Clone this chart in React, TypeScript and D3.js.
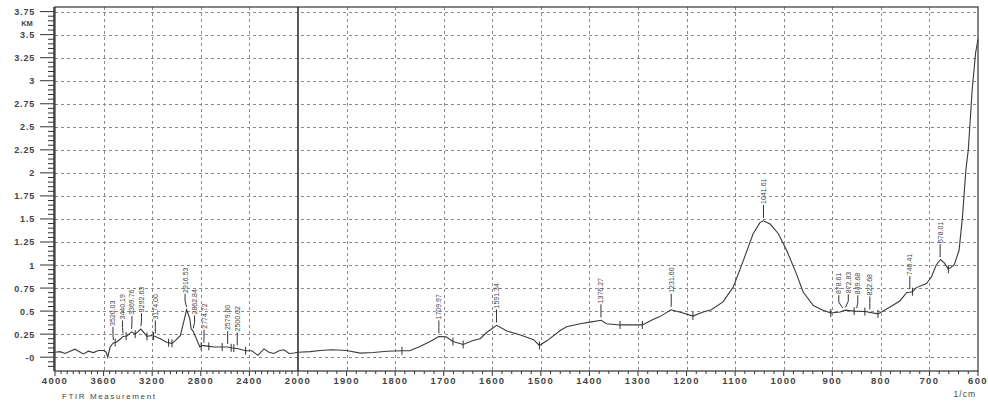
import { useRef, useEffect } from 'react';
import * as d3 from 'd3';

// spectrum points: wavenumber (1/cm) and absorbance
const wavenumbers = [
  4000, 3959, 3917, 3876, 3835, 3807, 3766, 3725, 3684, 3642, 3601, 3579, 3566, 3546, 3520, 3491,
  3460, 3440, 3408, 3370, 3340, 3315, 3293, 3243, 3210, 3174, 3133, 3078, 3037, 3010, 2968, 2941,
  2917, 2891, 2880, 2863, 2836, 2808, 2790, 2775, 2747, 2693, 2640, 2597, 2579, 2542, 2500, 2431,
  2380, 2330, 2280, 2239, 2198, 2156, 2115, 2074, 2033, 2000,
  1975, 1954, 1930, 1900, 1872, 1845, 1817, 1786, 1770, 1749, 1728, 1710, 1695, 1681, 1660, 1640,
  1625, 1611, 1591, 1570, 1542, 1515, 1503, 1487, 1460, 1447, 1419, 1399, 1376, 1365, 1337, 1291,
  1269, 1255, 1232, 1207, 1187, 1166, 1149, 1125, 1104, 1083, 1063, 1049, 1042, 1028, 1011, 994,
  974, 960, 939, 919, 903, 884, 873, 855, 833, 806, 781, 761, 747, 735, 727, 706,
  696, 686, 677, 669, 661, 649, 639, 632, 625, 620, 612, 605, 600,
];
const absorbance = [
  0.054, 0.06, 0.04, 0.065, 0.087, 0.065, 0.036, 0.065, 0.05, 0.072, 0.072, 0.054, 0.0, 0.11, 0.155, 0.165,
  0.2, 0.225, 0.23, 0.275, 0.25, 0.28, 0.305, 0.225, 0.235, 0.225, 0.2, 0.16, 0.15, 0.18, 0.236, 0.38,
  0.515, 0.42, 0.31, 0.28, 0.2, 0.11, 0.125, 0.125, 0.12, 0.11, 0.11, 0.11, 0.11, 0.1, 0.095, 0.07,
  0.07, 0.02, 0.09, 0.054, 0.04, 0.07, 0.08, 0.04, 0.045, 0.054,
  0.06, 0.073, 0.08, 0.073, 0.044, 0.05, 0.065, 0.07, 0.07, 0.116, 0.17, 0.225, 0.22, 0.17, 0.138, 0.18,
  0.2, 0.27, 0.345, 0.283, 0.24, 0.19, 0.127, 0.18, 0.29, 0.33, 0.363, 0.38, 0.4, 0.363, 0.35, 0.35,
  0.41, 0.44, 0.515, 0.48, 0.446, 0.49, 0.515, 0.6, 0.76, 1.05, 1.34, 1.46, 1.48, 1.445, 1.34, 1.16,
  0.907, 0.707, 0.56, 0.51, 0.48, 0.49, 0.51, 0.5, 0.495, 0.47, 0.545, 0.61, 0.7, 0.71, 0.755, 0.8,
  0.87, 1.0, 1.06, 1.02, 0.955, 1.0, 1.16, 1.52, 2.03, 2.25, 2.9, 3.3, 3.45,
];

// peak picks with their labels
const peakWn = [
  3520.03, 3440.19, 3369.76, 3292.63, 3174.0, 2916.53, 2862.84, 2774.72, 2579.0, 2500.02,
  1709.97, 1591.34, 1376.27, 1231.6, 1041.61, 878.61, 872.83, 849.68, 822.68, 740.41, 678.01,
];
const peakLabels = [
  '3520.03', '3440.19', '3369.76', '3292.63', '3174.00', '2916.53', '2862.84', '2774.72', '2579.00', '2500.02',
  '1709.97', '1591.34', '1376.27', '1231.60', '1041.61', '878.61', '872.83', '849.68', '822.68', '740.41', '678.01',
];

// valley tick marks on the trace
const valleyWn = [
  3505, 3414, 3340, 3243, 3189, 3065, 3037, 2797, 2734, 2624, 2550, 2528, 2431,
  1786, 1681, 1660, 1503, 1337, 1291, 1187, 903, 855, 833, 806, 735, 661,
];

const yTicks = [0, 0.25, 0.5, 0.75, 1, 1.25, 1.5, 1.75, 2, 2.25, 2.5, 2.75, 3, 3.25, 3.5, 3.75];
const xTicksLeft = [4000, 3600, 3200, 2800, 2400, 2000];
const xTicksRight = [1900, 1800, 1700, 1600, 1500, 1400, 1300, 1200, 1100, 1000, 900, 800, 700, 600];

const W = 988;
const H = 408;
const FONT = "'Liberation Sans', Arial, sans-serif";

export default function App() {
  const svgRef = useRef<SVGSVGElement>(null);

  useEffect(() => {
    if (!svgRef.current) return;
    const svg = d3.select(svgRef.current);
    svg.selectAll('*').remove();

    const left = 55;
    const right = 978;
    const top = 7;
    const bottom = 371;

    // two-segment wavenumber axis: 4000-2000 compressed, 2000-600 expanded
    const x = d3.scaleLinear().domain([4000, 2000, 600]).range([left, 298, right]);
    const y = d3.scaleLinear().domain([-0.15, 3.8]).range([bottom, top]);

    const ink = '#333';
    const pts = wavenumbers.map((w, i) => ({ w, a: absorbance[i] }));
    const valueAt = (w: number) => {
      for (let i = 0; i < pts.length - 1; i++) {
        const p = pts[i];
        const q = pts[i + 1];
        if (w <= p.w && w >= q.w) {
          const t = (p.w - w) / (p.w - q.w);
          return p.a + t * (q.a - p.a);
        }
      }
      return pts[pts.length - 1].a;
    };

    // grid
    const grid = svg.append('g').attr('stroke', '#8a8a8a').attr('stroke-width', 1).attr('stroke-dasharray', '3,3');
    yTicks.forEach((v) => {
      grid.append('line').attr('x1', left).attr('x2', right)
        .attr('y1', Math.round(y(v)) + 0.5).attr('y2', Math.round(y(v)) + 0.5);
    });
    [...xTicksLeft.slice(1, -1), ...xTicksRight.slice(0, -1)].forEach((v) => {
      grid.append('line').attr('x1', Math.round(x(v)) + 0.5).attr('x2', Math.round(x(v)) + 0.5)
        .attr('y1', top).attr('y2', bottom);
    });

    // frame
    svg.append('rect').attr('x', left).attr('y', top).attr('width', right - left).attr('height', bottom - top)
      .attr('fill', 'none').attr('stroke', ink).attr('stroke-width', 1.2);

    // split line at 2000
    svg.append('line').attr('x1', x(2000)).attr('x2', x(2000)).attr('y1', top).attr('y2', bottom)
      .attr('stroke', '#222').attr('stroke-width', 1.5);

    // y axis with minor ticks
    const yAxis = svg.append('g').attr('stroke', ink);
    yAxis.append('line').attr('x1', left - 1).attr('x2', left - 1).attr('y1', top).attr('y2', bottom)
      .attr('stroke-width', 1.5);
    d3.range(-0.1, 3.8, 0.05).forEach((v) => {
      const major = Math.abs(v / 0.25 - Math.round(v / 0.25)) < 1e-6 && v > -0.01;
      yAxis.append('line').attr('x1', major ? 40 : 48).attr('x2', left - 1)
        .attr('y1', y(v)).attr('y2', y(v)).attr('stroke-width', 1);
    });
    svg.append('g').selectAll('text').data(yTicks).join('text')
      .attr('x', 35).attr('y', (d) => y(d) + 3.5)
      .attr('text-anchor', 'end').attr('font-family', FONT).attr('font-size', 9).attr('font-weight', 'bold')
      .attr('letter-spacing', 0.8).attr('fill', '#444')
      .text((d) => (d === 0 ? '-0' : String(d)));
    svg.append('text').attr('x', 27).attr('y', 26).attr('text-anchor', 'middle')
      .attr('font-family', FONT).attr('font-size', 7.5).attr('font-weight', 'bold').attr('fill', '#444').text('KM');

    // x axis with minor ticks
    const xAxis = svg.append('g').attr('stroke', ink).attr('stroke-width', 1);
    d3.range(4000, 2000, -50).forEach((v) => {
      const major = v % 400 === 0;
      xAxis.append('line').attr('x1', x(v)).attr('x2', x(v)).attr('y1', bottom).attr('y2', bottom + (major ? 5 : 3));
    });
    d3.range(2000, 599, -20).forEach((v) => {
      const major = v % 100 === 0;
      xAxis.append('line').attr('x1', x(v)).attr('x2', x(v)).attr('y1', bottom).attr('y2', bottom + (major ? 5 : 3));
    });
    svg.append('g').selectAll('text').data([...xTicksLeft, ...xTicksRight]).join('text')
      .attr('x', (d) => x(d)).attr('y', bottom + 13)
      .attr('text-anchor', 'middle').attr('font-family', FONT).attr('font-size', 9.5).attr('font-weight', 'bold')
      .attr('letter-spacing', 1.3).attr('fill', '#444')
      .text((d) => String(d));
    svg.append('text').attr('x', 62).attr('y', 399).attr('font-family', FONT).attr('font-size', 8)
      .attr('letter-spacing', 1.6).attr('fill', '#444').text('FTIR Measurement');
    svg.append('text').attr('x', 976).attr('y', 397).attr('text-anchor', 'end').attr('font-family', FONT)
      .attr('font-size', 8.5).attr('letter-spacing', 1).attr('fill', '#444').text('1/cm');

    // spectrum trace
    const line = d3.line<{ w: number; a: number }>().x((d) => x(d.w)).y((d) => y(d.a));
    svg.append('path').datum(pts).attr('d', line).attr('fill', 'none')
      .attr('stroke', '#3a3a3a').attr('stroke-width', 1.1);

    // valley tick marks
    svg.append('g').selectAll('line').data(valleyWn).join('line')
      .attr('x1', (d) => x(d)).attr('x2', (d) => x(d))
      .attr('y1', (d) => y(valueAt(d)) - 4).attr('y2', (d) => y(valueAt(d)) + 4)
      .attr('stroke', ink).attr('stroke-width', 1);

    // peak labels: spread crowded ones apart, joined by bent leader lines
    const peaks = peakWn.map((w, i) => {
      const px = x(w);
      return { px, py: y(valueAt(w)), lx: px, text: peakLabels[i] };
    });
    const gap = 9.5;
    for (let iter = 0; iter < 30; iter++) {
      for (let i = 0; i < peaks.length - 1; i++) {
        const a = peaks[i];
        const b = peaks[i + 1];
        const d = b.lx - a.lx;
        if (d < gap) {
          const push = (gap - d) / 2;
          a.lx -= push;
          b.lx += push;
        }
      }
    }
    const g = svg.append('g');
    peaks.forEach((p) => {
      const labelBottom = p.py - 17;
      g.append('path')
        .attr('d', `M${p.lx},${labelBottom + 1}L${p.lx},${labelBottom + 8}L${p.px},${p.py - 3}`)
        .attr('fill', 'none').attr('stroke', ink).attr('stroke-width', 1);
      g.append('text')
        .attr('transform', `translate(${p.lx + 2.5},${labelBottom}) rotate(-90)`)
        .attr('font-family', FONT).attr('font-size', 7).attr('fill', '#444')
        .text(p.text);
    });
  }, []);

  return (
    <div style={{ position: 'fixed', left: 0, top: 0, background: '#fff' }}>
      <svg ref={svgRef} width={W} height={H} />
    </div>
  );
}
